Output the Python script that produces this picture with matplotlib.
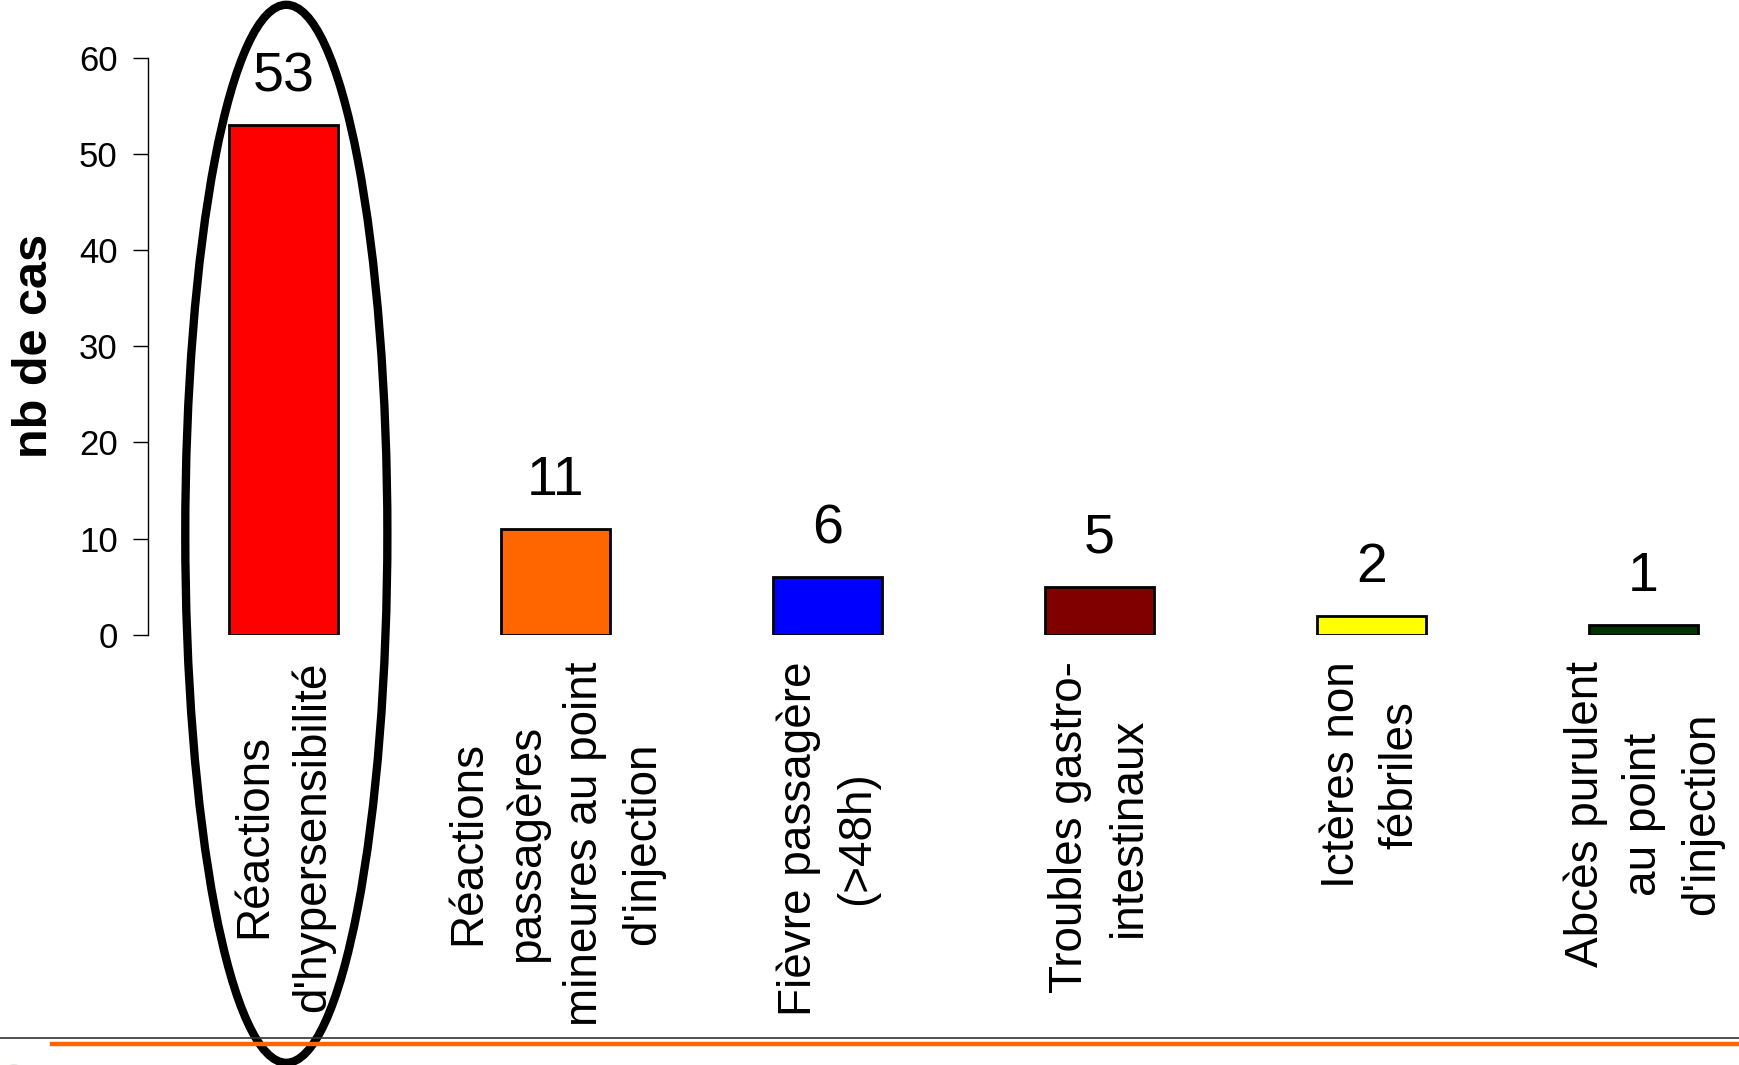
import matplotlib
matplotlib.use("Agg")
import matplotlib.pyplot as plt
from matplotlib.patches import Ellipse, Circle
from matplotlib.lines import Line2D

plt.rcParams['font.family'] = ['Liberation Sans', 'DejaVu Sans']

categories = [
    "Réactions\nd'hypersensibilité",
    "Réactions\npassagères\nmineures au point\nd'injection",
    "Fièvre passagère\n(>48h)",
    "Troubles gastro-\nintestinaux",
    "Ictères non\nfébriles",
    "Abcès purulent\nau point\nd'injection",
]
values = [53, 11, 6, 5, 2, 1]
colors = ["#FF0000", "#FF6600", "#0000FF", "#800000", "#FFFF00", "#003300"]
yticks = [0, 10, 20, 30, 40, 50, 60]

W, H = 1740, 1065
fig = plt.figure(figsize=(W / 100, H / 100), dpi=100)
ax = fig.add_axes([147.6 / W, 1 - 634.8 / H, 1 - 147.6 / W, (634.8 - 57.7) / H])

x = list(range(len(values)))
ax.bar(x, values, width=0.4, color=colors, edgecolor="black", linewidth=2, zorder=2)

ax.set_xlim(-0.5, -0.5 + (W - 147.6) / 272)
ax.set_ylim(0, 60)
ax.set_yticks(yticks)
ax.tick_params(axis="y", labelsize=25, length=10.5, width=1, pad=11, direction="out")
ax.set_xticks([])
for s in ["top", "right", "bottom"]:
    ax.spines[s].set_visible(False)
ax.spines["left"].set_linewidth(1)

ylab = ax.set_ylabel("nb de cas", fontsize=35, fontweight="bold")
ylab.set_va("center")
ax.yaxis.set_label_coords((34 - 147.6) / (W - 147.6), 0.5)

# value labels above each bar
for xi, v in zip(x, values):
    ax.annotate(str(v), (xi, v), xytext=(0, 24.5), textcoords="offset points",
                ha="center", va="baseline", fontsize=40, zorder=3)

# rotated category labels under the bars
for xi, lab in zip(x, categories):
    ax.annotate(lab, (xi, 0), xytext=(0, -19), textcoords="offset points",
                ha="center", va="top", rotation=90, multialignment="center",
                linespacing=1.42, fontsize=33, annotation_clip=False)

# highlight ring around the dominant category
imax = values.index(max(values))
ring = Ellipse((imax + 0.01, 10.5), width=0.743, height=110, fill=False,
               edgecolor="black", linewidth=6, clip_on=False, zorder=5)
ax.add_patch(ring)

# footer rules and emblem
fig.add_artist(Line2D([0, 1], [1 - 1037.5 / H] * 2, color="#333333", linewidth=1.2))
fig.add_artist(Line2D([52 / W, 1], [1 - 1044 / H] * 2, color="#FF6600", linewidth=3.2))
fig.add_artist(Circle((14 / W, 1 - 1078 / H), 0.0125, transform=fig.transFigure,
                      facecolor="#a9b3a0", edgecolor="none", clip_on=False))

fig.savefig("out.png", dpi=100)
